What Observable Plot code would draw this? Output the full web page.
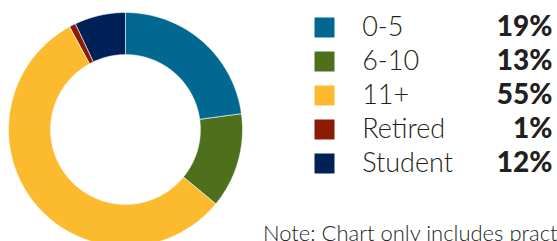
<!DOCTYPE html>
<html><head><meta charset="utf-8">
<script src="https://cdn.jsdelivr.net/npm/d3@7"></script>
<script src="https://cdn.jsdelivr.net/npm/@observablehq/plot@0.6"></script>
<style>
html,body{margin:0;padding:0;width:557px;height:241px;overflow:hidden;background:#fff;}
#donut{position:absolute;left:8px;top:12px;}
#legend{position:absolute;left:300px;top:0;}
#note{position:absolute;left:263px;top:222px;font-family:Lato;font-weight:300;font-size:22px;line-height:22px;color:#231f20;white-space:nowrap;}
svg{overflow:visible}
</style></head><body>
<div id="donut"></div><div id="legend"></div>
<div id="note">Note: Chart only includes practicing members.</div>
<script>
const categories = ["0-5", "6-10", "11+", "Retired", "Student"];
const sliceShares = [22.9, 13.1, 56.1, 0.9, 7.0];
const labelPercents = ["19%", "13%", "55%", "1%", "12%"];
const colors = ["#016892", "#4e6f1b", "#fcbb2e", "#8b1c03", "#002158"];

const outerR = 1, innerR = 0.64;
const rows = categories.map((c, i) => ({cat: c, share: sliceShares[i], label: labelPercents[i]}));
const arcs = d3.pie().sort(null).value(d => d.share)(rows);

function pt(r, a) { return [r * Math.sin(a), -r * Math.cos(a)]; }
function slicePolygon(a0, a1) {
  const n = Math.max(2, Math.ceil((a1 - a0) / 0.01));
  const ring = [];
  for (let k = 0; k <= n; k++) ring.push(pt(outerR, a0 + (a1 - a0) * k / n));
  for (let k = n; k >= 0; k--) ring.push(pt(innerR, a0 + (a1 - a0) * k / n));
  ring.push(ring[0]);
  return ring;
}
const features = arcs.map(a => ({
  type: "Feature",
  properties: {cat: a.data.cat},
  geometry: {type: "Polygon", coordinates: [slicePolygon(a.startAngle, a.endAngle)]}
}));
const outline = {type: "Polygon", coordinates: [d3.range(0, 361, 2).map(d => pt(outerR, d * Math.PI / 180))]};

const colorScale = {domain: categories, range: colors};

const donut = Plot.plot({
  width: 234, height: 234, margin: 0,
  projection: {type: "identity", domain: outline},
  color: colorScale,
  marks: [
    Plot.geo(features, {fill: d => d.properties.cat, stroke: "white", strokeWidth: 0.6})
  ]
});
document.getElementById("donut").appendChild(donut);

const legend = Plot.plot({
  width: 257, height: 190,
  marginTop: 8.3, marginBottom: 7.7, marginLeft: 0, marginRight: 5,
  style: {fontFamily: "Lato", background: "transparent"},
  y: {type: "point", domain: categories, padding: 0.5, axis: null},
  color: colorScale,
  marks: [
    Plot.dot(rows, {y: "cat", frameAnchor: "left", dx: 24, symbol: "square", r: 11.28, fill: "cat"}),
    Plot.text(rows, {y: "cat", frameAnchor: "left", dx: 61.7, text: "cat", textAnchor: "start", fontSize: 27, fontWeight: 300, fill: "#231f20"}),
    Plot.text(rows, {y: "cat", frameAnchor: "right", text: "label", textAnchor: "end", fontSize: 28, fontWeight: 900, fill: "#231f20", letterSpacing: "1px"})
  ]
});
document.getElementById("legend").appendChild(legend);
</script>
</body></html>
